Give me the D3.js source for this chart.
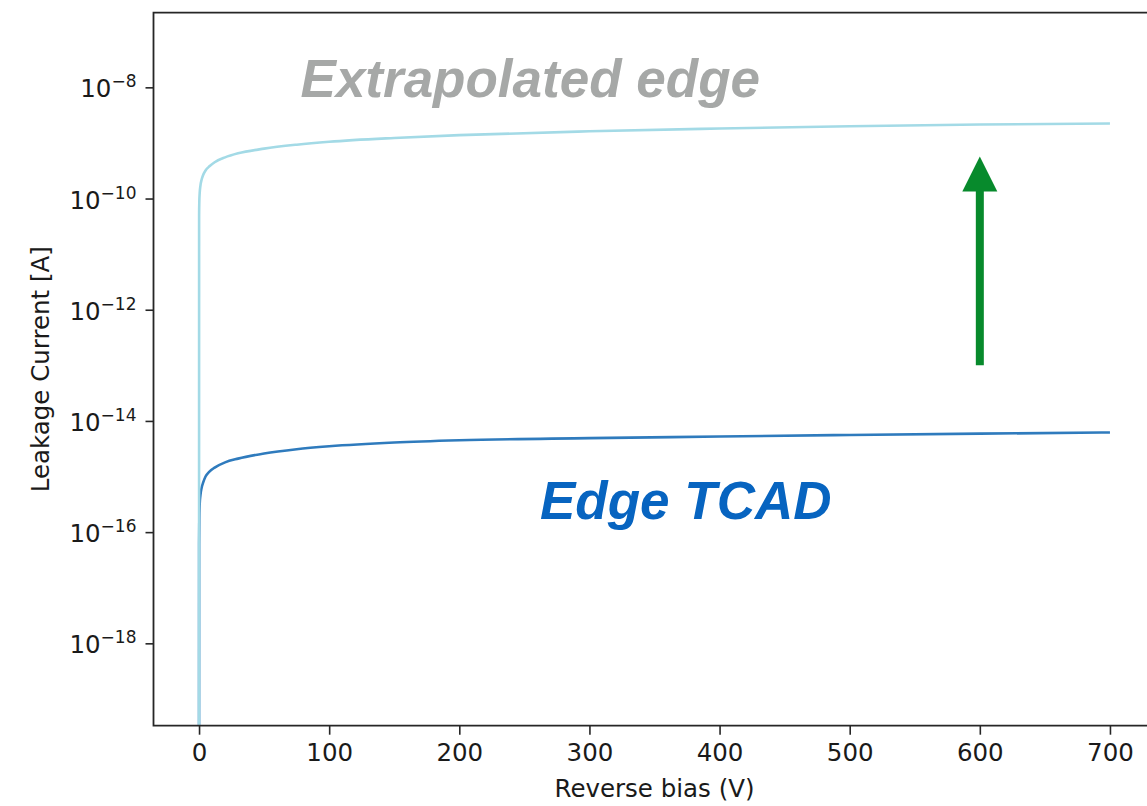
<!DOCTYPE html>
<html>
<head>
<meta charset="utf-8">
<script src="https://d3js.org/d3.v7.min.js"></script>
<style>
    body { margin: 0; background: #ffffff; }
    svg { display: block; }
    .tickLabel { font-family: "DejaVu Sans", sans-serif; font-size: 24.5px; fill: #1a1a1a; }
    .axisTitle { font-family: "DejaVu Sans", sans-serif; font-size: 24.5px; fill: #1a1a1a; }
    .note { font-family: "Liberation Sans", Arial, sans-serif; font-weight: bold; font-style: italic; font-size: 53px; }
</style>
</head>
<body>
<div id="chart"></div>
<script>

// reverse bias values (V) the two curves are sampled at
var biasVolts = [0, 0.05, 0.2, 0.5, 1, 2, 3, 5, 8, 12, 20, 30, 50, 75, 100, 150, 200, 300, 400, 500, 600, 700];

// extrapolated edge leakage current (A), light curve
var extrapolatedCurrent = [1e-20, 5.0e-11, 8.7e-11, 1.26e-10, 1.66e-10, 2.2e-10, 2.6e-10, 3.2e-10, 3.8e-10, 4.5e-10,
    5.5e-10, 6.5e-10, 7.9e-10, 9.3e-10, 1.05e-9, 1.23e-9, 1.38e-9, 1.62e-9, 1.82e-9, 2.0e-9, 2.14e-9, 2.24e-9];

// edge TCAD leakage current (A), dark curve
var tcadCurrent = [1e-20, 6.0e-17, 1.8e-16, 3.2e-16, 4.5e-16, 6.3e-16, 7.6e-16, 1.0e-15, 1.23e-15, 1.45e-15,
    1.8e-15, 2.1e-15, 2.6e-15, 3.1e-15, 3.5e-15, 4.1e-15, 4.5e-15, 4.9e-15, 5.25e-15, 5.6e-15, 5.9e-15, 6.2e-15];

// axis limits and ticks
var xDomain = [-35, 735];
var yDomain = [3.3e-20, 2.2e-7];
var xTicks = [0, 100, 200, 300, 400, 500, 600, 700];
var yTickExponents = [-8, -10, -12, -14, -16, -18];

// green arrow (V, A): tail then tip
var arrowVolts = [600, 600];
var arrowCurrent = [1.0e-13, 5.7e-10];

var width = 1147, height = 806;
var plot = {left: 153.5, right: 1155.5, top: 12.7, bottom: 725.7};

var svg = d3.select("#chart").append("svg")
    .attr("width", width)
    .attr("height", height);

var xScale = d3.scaleLinear().domain(xDomain).range([plot.left, plot.right]);
var yScale = d3.scaleLog().domain(yDomain).range([plot.bottom, plot.top]);

//clip so the curves stop at the frame
svg.append("clipPath").attr("id", "plotClip")
    .append("rect")
    .attr("x", plot.left)
    .attr("y", plot.top)
    .attr("width", plot.right - plot.left)
    .attr("height", plot.bottom - plot.top);

var lineGen = d3.line()
    .x(function(d){ return xScale(d[0]); })
    .y(function(d){ return yScale(d[1]); })
    .curve(d3.curveMonotoneX);

var curves = [
    {values: tcadCurrent, color: "#2f7bbd"},
    {values: extrapolatedCurrent, color: "#a3dae6"}
];

var curveGroup = svg.append("g").attr("clip-path", "url(#plotClip)");

curveGroup.selectAll("path.curve")
    .data(curves)
    .enter()
    .append("path")
    .attr("class", "curve")
    .attr("fill", "none")
    .attr("stroke", function(d){ return d.color; })
    .attr("stroke-width", 2.6)
    .attr("d", function(d){
        return lineGen(biasVolts.map(function(v, i){ return [v, d.values[i]]; }));
    });

// x axis
var xAxis = d3.axisBottom(xScale)
    .tickValues(xTicks)
    .tickSize(9)
    .tickPadding(9)
    .tickFormat(d3.format("d"));

var gx = svg.append("g")
    .attr("transform", "translate(0," + plot.bottom + ")")
    .call(xAxis);

gx.select(".domain").remove();
gx.selectAll(".tick line").attr("stroke", "#262626").attr("stroke-width", 1.6);
gx.selectAll(".tick text")
    .attr("class", "tickLabel")
    .attr("font-family", null)
    .attr("font-size", null)
    .attr("fill", null)
    .attr("dy", "0.71em");

// y axis, labels written as 10^n with a raised exponent
var yAxis = d3.axisLeft(yScale)
    .tickValues(yTickExponents.map(function(e){ return Math.pow(10, e); }))
    .tickSize(8)
    .tickFormat("");

var gy = svg.append("g")
    .attr("transform", "translate(" + plot.left + ",0)")
    .call(yAxis);

gy.select(".domain").remove();
gy.selectAll(".tick line").attr("stroke", "#262626").attr("stroke-width", 1.6);

var yLabels = svg.append("g").selectAll("text")
    .data(yTickExponents)
    .enter()
    .append("text")
    .attr("class", "tickLabel")
    .attr("text-anchor", "end")
    .attr("x", plot.left - 17)
    .attr("y", function(d){ return yScale(Math.pow(10, d)) + 10; });

yLabels.append("tspan").text("10");
yLabels.append("tspan")
    .attr("dy", -10)
    .attr("font-size", "17px")
    .text(function(d){ return "\u2212" + Math.abs(d); });

// frame: left, bottom and top spines (right one falls outside the picture)
var frame = svg.append("g")
    .attr("stroke", "#262626")
    .attr("stroke-width", 1.8)
    .attr("fill", "none");

frame.append("path")
    .attr("d", "M" + plot.right + "," + plot.top + "H" + plot.left + "V" + plot.bottom + "H" + plot.right);

// axis titles
svg.append("text")
    .attr("class", "axisTitle")
    .attr("text-anchor", "middle")
    .attr("x", (plot.left + plot.right) / 2)
    .attr("y", 797)
    .text("Reverse bias (V)");

svg.append("text")
    .attr("class", "axisTitle")
    .attr("text-anchor", "middle")
    .attr("transform", "translate(49," + ((plot.top + plot.bottom) / 2) + ") rotate(-90)")
    .text("Leakage Current [A]");

// annotations
svg.append("text")
    .attr("class", "note")
    .attr("fill", "#a6a8a7")
    .attr("x", xScale(78))
    .attr("y", yScale(6.6e-9))
    .text("Extrapolated edge");

svg.append("text")
    .attr("class", "note")
    .attr("fill", "#0764c0")
    .attr("x", xScale(262))
    .attr("y", yScale(1.7e-16))
    .text("Edge TCAD");

// arrow pointing up from TCAD level to extrapolated level
var tailX = xScale(arrowVolts[0]), tailY = yScale(arrowCurrent[0]);
var tipX = xScale(arrowVolts[1]), tipY = yScale(arrowCurrent[1]);
var headLen = 35, headHalf = 17.5;

svg.append("line")
    .attr("x1", tailX)
    .attr("y1", tailY)
    .attr("x2", tipX)
    .attr("y2", tipY + headLen - 2)
    .attr("stroke", "#078a2c")
    .attr("stroke-width", 8);

svg.append("path")
    .attr("fill", "#078a2c")
    .attr("d", "M" + tipX + "," + tipY +
        "L" + (tipX + headHalf) + "," + (tipY + headLen) +
        "L" + (tipX - headHalf) + "," + (tipY + headLen) + "Z");

</script>
</body>
</html>
